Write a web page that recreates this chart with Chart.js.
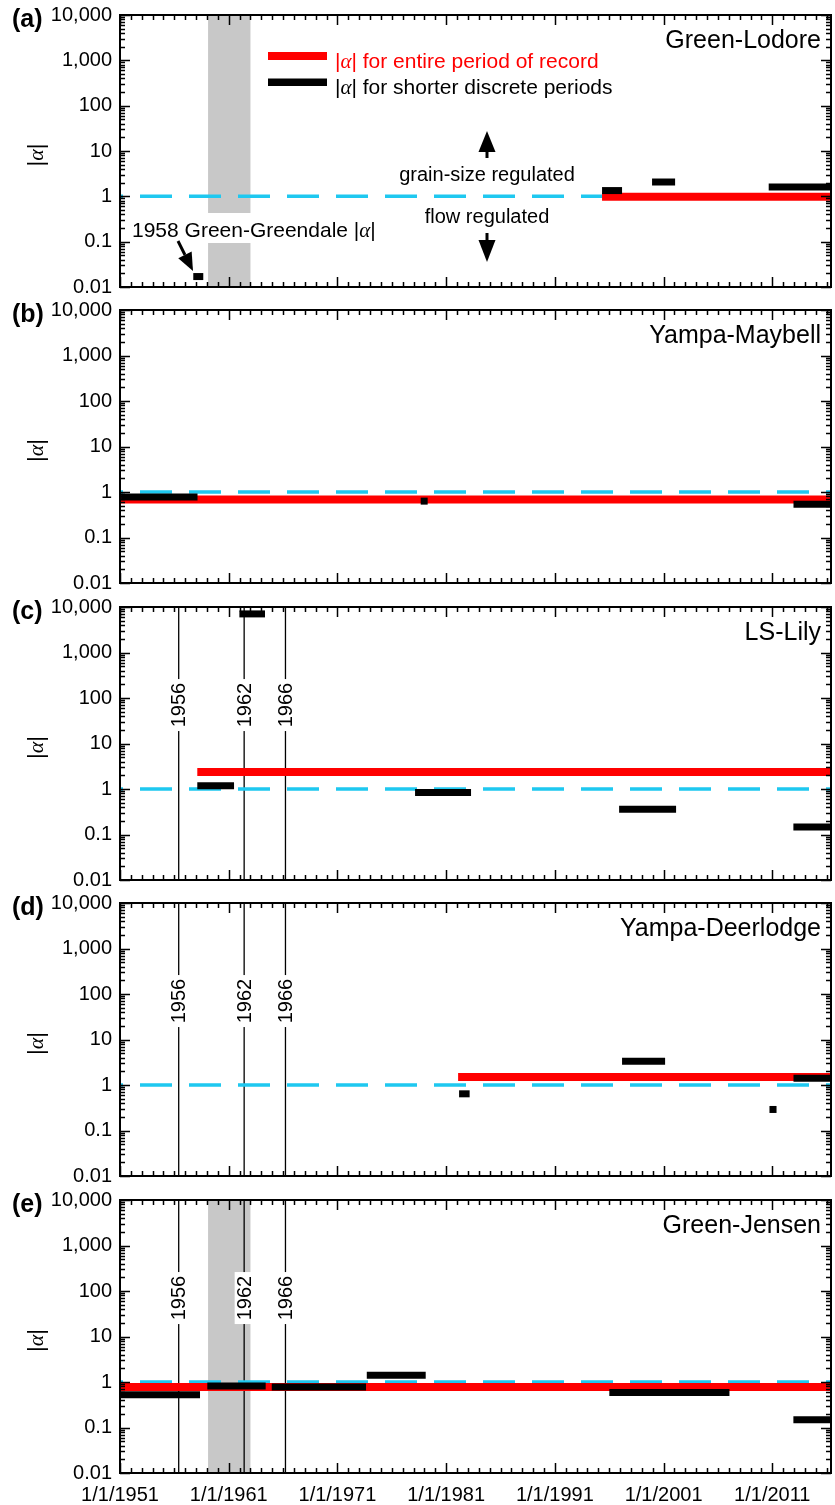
<!DOCTYPE html>
<html>
<head>
<meta charset="utf-8">
<script src="https://cdn.jsdelivr.net/npm/chart.js@4.4.0/dist/chart.umd.min.js"></script>
<style>
  body { margin: 0; background: #fff; }
  #wrap { position: relative; width: 835px; height: 1505px; }
  #wrap canvas { position: absolute; left: 0; }
</style>
</head>
<body>
<div id="wrap"></div>
<script>
// axis ranges / ticks
const xMin = 1951, xMax = 2016.4;
const xTickYears = [1951, 1961, 1971, 1981, 1991, 2001, 2011];
const yDecades = [0.01, 0.1, 1, 10, 100, 1000, 10000];

const stations = ['Green-Lodore', 'Yampa-Maybell', 'LS-Lily', 'Yampa-Deerlodge', 'Green-Jensen'];
const panelLetters = ['(a)', '(b)', '(c)', '(d)', '(e)'];

// |alpha| for entire period of record (red)
const recordStart = [1995.34, 1951.0, 1958.11, 1982.1, 1951.0];
const recordEnd   = [2016.4, 2016.37, 2016.4, 2016.4, 2016.4];
const recordAlpha = [0.98, 0.68, 2.37, 1.5, 0.78];

// |alpha| for shorter discrete periods (black): [start, end, value]
const periodsLodore = [[1995.34, 1997.18, 1.34], [1999.94, 2002.06, 2.07], [2010.67, 2016.4, 1.6]];
const periodsMaybell = [[1951.1, 1958.13, 0.78], [1978.66, 1979.3, 0.63], [2012.95, 2016.37, 0.54]];
const periodsLily = [[1958.11, 1961.49, 1.18], [1961.98, 1964.34, 7050], [1978.14, 1983.29, 0.84],
                     [1996.91, 2002.15, 0.357], [2012.94, 2016.4, 0.146]];
const periodsDeerlodge = [[1982.19, 1983.16, 0.64], [1997.18, 2001.14, 3.34], [2010.74, 2011.39, 0.29],
                          [2012.95, 2016.37, 1.4]];
const periodsJensen = [[1951.06, 1958.36, 0.525], [1959.03, 1964.4, 0.82], [1964.96, 1973.63, 0.78],
                       [1973.7, 1979.12, 1.41], [1996.01, 2007.06, 0.59], [2012.94, 2016.4, 0.148]];
const periods = [periodsLodore, periodsMaybell, periodsLily, periodsDeerlodge, periodsJensen];

const greendale1958 = [1957.74, 1958.66, 0.017];

const damYears = [1956.4, 1962.42, 1966.22];
const damLabels = ['1956', '1962', '1966'];
const damPanels = [2, 3, 4];
const shadedYears = [1959.1, 1963.0];
const shadedPanels = [0, 4];
const thresholdAlpha = 1;

// layout
const panelTops = [15, 310, 607, 903, 1200];
const panelHeights = [272, 273, 273, 273, 273];
const PAD = 20;

Chart.defaults.font.family = "'Liberation Sans', Arial, Helvetica, sans-serif";
Chart.defaults.color = '#000';

const SANS = "'Liberation Sans', Arial, sans-serif";

function seg(s, e, v) { return [{x: s, y: v}, {x: e, y: v}]; }

function fmtTick(v) {
  return v >= 1000 ? Number(v).toLocaleString('en-US') : String(v);
}

// draw text made of pieces with different fonts
function drawMixed(ctx, parts, x, y, align) {
  let total = 0;
  parts.forEach(p => { ctx.font = p.f; p.w = ctx.measureText(p.t).width; total += p.w; });
  let cx = align === 'center' ? x - total / 2 : (align === 'right' ? x - total : x);
  ctx.textAlign = 'left';
  parts.forEach(p => { ctx.font = p.f; ctx.fillText(p.t, cx, y); cx += p.w; });
}

function alphaParts(size, rest) {
  const s = size + "px " + SANS;
  const a = "italic " + size + "px 'Liberation Serif', 'DejaVu Serif', serif";
  const arr = [{t: '|', f: s}, {t: '\u03B1', f: a}, {t: '|', f: s}];
  if (rest) arr.push({t: rest, f: s});
  return arr;
}

function arrow(ctx, x0, y0, x1, y1, headLen, headHalf) {
  const dx = x1 - x0, dy = y1 - y0, L = Math.hypot(dx, dy);
  const ux = dx / L, uy = dy / L;
  const bx = x1 - ux * headLen, by = y1 - uy * headLen;
  ctx.beginPath();
  ctx.moveTo(x0, y0); ctx.lineTo(bx, by);
  ctx.lineWidth = 3; ctx.strokeStyle = '#000'; ctx.stroke();
  ctx.beginPath();
  ctx.moveTo(x1, y1);
  ctx.lineTo(bx - uy * headHalf, by + ux * headHalf);
  ctx.lineTo(bx + uy * headHalf, by - ux * headHalf);
  ctx.closePath();
  ctx.fillStyle = '#000'; ctx.fill();
}

function makeDecor(i) {
  return {
    id: 'decor' + i,
    beforeDatasetsDraw(chart) {
      const ctx = chart.ctx, a = chart.chartArea, xs = chart.scales.x;
      if (shadedPanels.includes(i)) {
        const x0 = xs.getPixelForValue(shadedYears[0]), x1 = xs.getPixelForValue(shadedYears[1]);
        ctx.save();
        ctx.fillStyle = '#c8c8c8';
        ctx.fillRect(x0, a.top, x1 - x0, a.bottom - a.top);
        ctx.restore();
      }
    },
    afterDatasetsDraw(chart) {
      const ctx = chart.ctx, a = chart.chartArea, xs = chart.scales.x, ys = chart.scales.y;
      const oy = a.top - panelTops[i];   // page -> canvas offset for panel (a) notes
      ctx.save();
      ctx.fillStyle = '#000';
      ctx.textBaseline = 'alphabetic';
      // dam year labels on vertical lines
      if (damPanels.includes(i)) {
        damYears.forEach((d, k) => {
          const x = xs.getPixelForValue(d), y = ys.getPixelForValue(70);
          ctx.save();
          ctx.translate(x, y);
          ctx.rotate(-Math.PI / 2);
          ctx.fillStyle = '#fff';
          ctx.fillRect(-26, -9.5, 52, 19);
          ctx.fillStyle = '#000';
          ctx.font = '20px ' + SANS;
          ctx.textAlign = 'center';
          ctx.textBaseline = 'middle';
          ctx.fillText(damLabels[k], 0, 1);
          ctx.restore();
        });
      }
      // station name
      ctx.font = '25px ' + SANS;
      ctx.textAlign = 'right';
      ctx.fillText(stations[i], 821, a.top + 33);
      if (i === 0) {
        ctx.translate(0, oy);
        // legend
        ctx.fillStyle = '#ff0000';
        ctx.fillRect(268, 52, 59, 8);
        ctx.fillStyle = '#000';
        ctx.fillRect(268, 78.5, 59, 7.5);
        ctx.fillStyle = '#ff0000';
        drawMixed(ctx, alphaParts(21, ' for entire period of record'), 335, 68, 'left');
        ctx.fillStyle = '#000';
        drawMixed(ctx, alphaParts(21, ' for shorter discrete periods'), 335, 94, 'left');
        // regime notes
        ctx.font = '20px ' + SANS;
        ctx.textAlign = 'center';
        ctx.fillText('grain-size regulated', 487, 181);
        ctx.fillText('flow regulated', 487, 223);
        arrow(ctx, 487, 158, 487, 131, 21, 8.5);
        arrow(ctx, 487, 233, 487, 262, 22, 8.5);
        // Greendale note
        ctx.fillStyle = '#fff';
        ctx.fillRect(128, 213, 252, 30);
        ctx.fillStyle = '#000';
        drawMixed(ctx, [{t: '1958 Green-Greendale ', f: '21px ' + SANS}].concat(alphaParts(21)), 132, 237, 'left');
        arrow(ctx, 178, 241, 193, 271, 18, 7.5);
      }
      ctx.restore();
    },
    afterDraw(chart) {
      const ctx = chart.ctx, a = chart.chartArea, xs = chart.scales.x, ys = chart.scales.y;
      ctx.save();
      ctx.strokeStyle = '#000';
      ctx.lineWidth = 1.5;
      ctx.beginPath();
      for (let yr = 1951; yr <= 2016; yr++) {
        const x = Math.round(xs.getPixelForValue(yr)) + 0.5;
        const L = (yr - 1951) % 10 === 0 ? 10 : 5;
        ctx.moveTo(x, a.bottom); ctx.lineTo(x, a.bottom - L);
        ctx.moveTo(x, a.top); ctx.lineTo(x, a.top + L);
      }
      for (let e = -2; e <= 4; e++) {
        for (let m = 1; m <= 9; m++) {
          const v = m * Math.pow(10, e);
          if (v > 10000) break;
          const y = Math.round(ys.getPixelForValue(v)) + 0.5;
          const L = m === 1 ? 10 : 5;
          ctx.moveTo(a.left, y); ctx.lineTo(a.left + L, y);
          ctx.moveTo(a.right, y); ctx.lineTo(a.right - L, y);
        }
      }
      ctx.stroke();
      ctx.lineWidth = 2;
      ctx.strokeRect(a.left, a.top, a.right - a.left, a.bottom - a.top);
      // panel letter
      ctx.fillStyle = '#000';
      ctx.font = 'bold 25px ' + SANS;
      ctx.textAlign = 'left';
      ctx.textBaseline = 'alphabetic';
      ctx.fillText(panelLetters[i], 12, a.top + 12);
      // y title |alpha|
      ctx.translate(37, (a.top + a.bottom) / 2 + 4);
      ctx.rotate(-Math.PI / 2);
      ctx.textBaseline = 'middle';
      drawMixed(ctx, alphaParts(22), 0, 0, 'center');
      ctx.restore();
    }
  };
}

const wrap = document.getElementById('wrap');

for (let i = 0; i < 5; i++) {
  const last = i === 4;
  const cv = document.createElement('canvas');
  const h = PAD + panelHeights[i] + (last ? 32 : PAD);
  cv.width = 835; cv.height = h;
  cv.style.top = (panelTops[i] - PAD) + 'px';
  cv.style.width = '835px'; cv.style.height = h + 'px';
  wrap.appendChild(cv);

  const datasets = [];
  datasets.push({data: seg(xMin, xMax, thresholdAlpha), borderColor: '#1ec8f0', borderWidth: 3.5,
                 borderDash: [32, 17], borderDashOffset: 29, order: 5});
  if (damPanels.includes(i)) {
    damYears.forEach(d => datasets.push({data: [{x: d, y: 0.01}, {x: d, y: 10000}],
      borderColor: '#000', borderWidth: 1.3, order: 6}));
  }
  datasets.push({data: seg(recordStart[i], recordEnd[i], recordAlpha[i]), borderColor: '#ff0000',
                 borderWidth: 8, order: 2});
  periods[i].forEach(p => datasets.push({data: seg(p[0], p[1], p[2]), borderColor: '#000',
                 borderWidth: 7, order: 1}));
  if (i === 0) {
    datasets.push({data: seg(greendale1958[0], greendale1958[1], greendale1958[2]),
                   borderColor: '#000', borderWidth: 7, order: 1});
  }

  new Chart(cv, {
    type: 'line',
    data: {datasets: datasets},
    options: {
      responsive: false,
      animation: false,
      layout: {padding: {top: PAD, right: 4, left: 0, bottom: last ? 0 : PAD}},
      plugins: {legend: {display: false}, tooltip: {enabled: false}},
      elements: {point: {radius: 0}, line: {tension: 0, fill: false, borderCapStyle: 'butt'}},
      scales: {
        x: {
          type: 'linear', min: xMin, max: xMax, display: last,
          grid: {display: false, drawTicks: false}, border: {display: false},
          afterBuildTicks: s => { s.ticks = xTickYears.map(v => ({value: v})); },
          afterFit: s => { if (last) s.height = 32; },
          ticks: {autoSkip: false, maxRotation: 0, padding: 10, font: {size: 20},
                  callback: v => '1/1/' + v}
        },
        y: {
          type: 'logarithmic', min: 0.01, max: 10000,
          grid: {display: false, drawTicks: false}, border: {display: false},
          afterBuildTicks: s => { s.ticks = yDecades.map(v => ({value: v})); },
          afterFit: s => { s.width = 120; },
          ticks: {padding: 8, font: {size: 20}, callback: v => fmtTick(v)}
        }
      }
    },
    plugins: [makeDecor(i)]
  });
}
</script>
</body>
</html>
